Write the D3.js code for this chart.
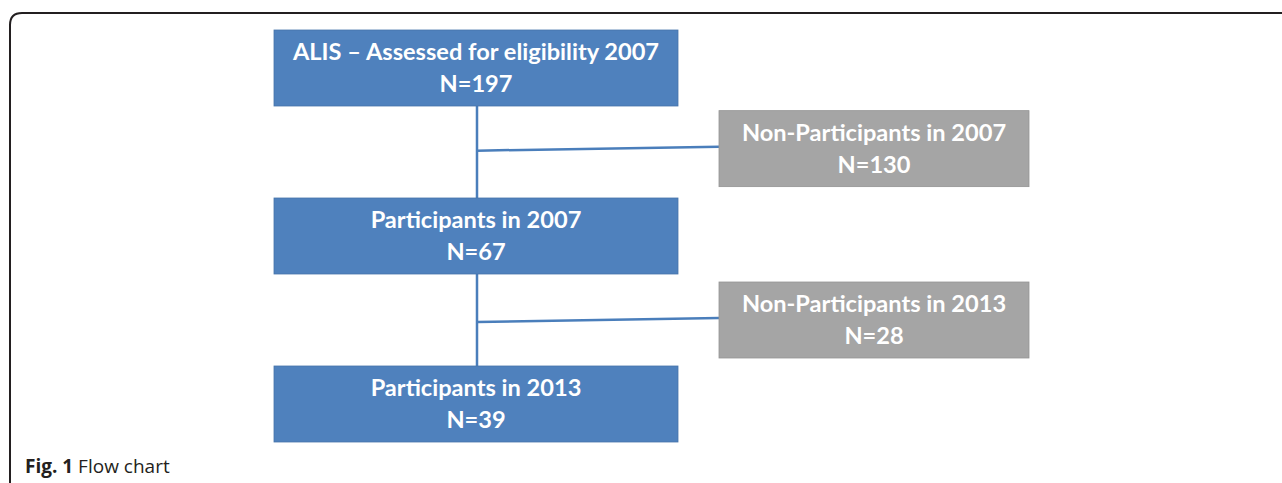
<!DOCTYPE html>
<html>
<head>
<meta charset="utf-8">
<script src="https://cdn.jsdelivr.net/npm/d3@7"></script>
<style>
  body { margin: 0; background: #fff; }
  svg { display: block; }
</style>
</head>
<body>
<div id="chart"></div>
<script>
// flow chart data
const mainLabels = ["ALIS \u2013 Assessed for eligibility 2007", "Participants in 2007", "Participants in 2013"];
const mainCounts = [197, 67, 39];
const mainRows = [0, 1, 2];

const sideLabels = ["Non-Participants in 2007", "Non-Participants in 2013"];
const sideCounts = [130, 28];
const sideRows = [0.48, 1.5];

const caption = ["Fig. 1", "Flow chart"];

const w = 1282;
const h = 483;

const blue = "#4f81bd";
const grey = "#a5a5a5";
const lineBlue = "#4a7ebb";

const yScale = d3.scaleLinear().domain([0, 2]).range([68, 404]);
const boxH = 76;
const mainX = d3.scaleLinear().domain([0, 1]).range([274, 678]);
const sideX = d3.scaleLinear().domain([0, 1]).range([719, 1029]);

const svg = d3.select("#chart").append("svg")
  .attr("width", w)
  .attr("height", h);

// frame (top + left edge with rounded corner)
svg.append("path")
  .attr("d", `M10,${h} L10,25 Q10,13 22,13 L${w},13`)
  .attr("fill", "none")
  .attr("stroke", "#231f20")
  .attr("stroke-width", 2);

const cx = (mainX(0) + mainX(1)) / 2 + 1;

// connectors
svg.append("line")
  .attr("x1", cx).attr("x2", cx)
  .attr("y1", yScale(0) + boxH / 2)
  .attr("y2", yScale(2) - boxH / 2)
  .attr("stroke", lineBlue)
  .attr("stroke-width", 2.5);

svg.selectAll(".branch")
  .data(sideRows)
  .enter()
  .append("line")
  .attr("class", "branch")
  .attr("x1", cx)
  .attr("x2", sideX(0))
  .attr("y1", (d) => yScale(d) + 2)
  .attr("y2", (d) => yScale(d) - 2)
  .attr("stroke", lineBlue)
  .attr("stroke-width", 2.5);

function drawBoxes(labels, counts, rows, xs, fill) {
  const g = svg.append("g");
  const nodes = g.selectAll("g")
    .data(labels.map((l, i) => ({ label: l, n: counts[i], row: rows[i] })))
    .enter()
    .append("g");
  nodes.append("rect")
    .attr("x", xs(0))
    .attr("y", (d) => yScale(d.row) - boxH / 2)
    .attr("width", xs(1) - xs(0))
    .attr("height", boxH)
    .attr("fill", fill)
    .attr("stroke", d3.color(fill).darker(0.3))
    .attr("stroke-width", 0.8);
  const tx = (xs(0) + xs(1)) / 2;
  nodes.append("text")
    .attr("x", tx)
    .attr("y", (d) => yScale(d.row) - 8)
    .attr("text-anchor", "middle")
    .attr("font-family", "Lato, 'Open Sans', sans-serif")
    .attr("font-weight", "bold")
    .attr("font-size", 23.6)
    .attr("fill", "#fff")
    .text((d) => d.label);
  nodes.append("text")
    .attr("x", tx)
    .attr("y", (d) => yScale(d.row) + 24)
    .attr("text-anchor", "middle")
    .attr("font-family", "Lato, 'Open Sans', sans-serif")
    .attr("font-weight", "bold")
    .attr("font-size", 23.6)
    .attr("fill", "#fff")
    .text((d) => "N=" + d.n);
}

drawBoxes(mainLabels, mainCounts, mainRows, mainX, blue);
drawBoxes(sideLabels, sideCounts, sideRows, sideX, grey);

// caption
const cap = svg.append("text")
  .attr("x", 25)
  .attr("y", 473)
  .attr("font-family", "'Open Sans', sans-serif")
  .attr("font-size", 19)
  .attr("fill", "#231f20");
cap.append("tspan").attr("font-weight", "bold").text(caption[0]);
cap.append("tspan").text(" " + caption[1]);
</script>
</body>
</html>
